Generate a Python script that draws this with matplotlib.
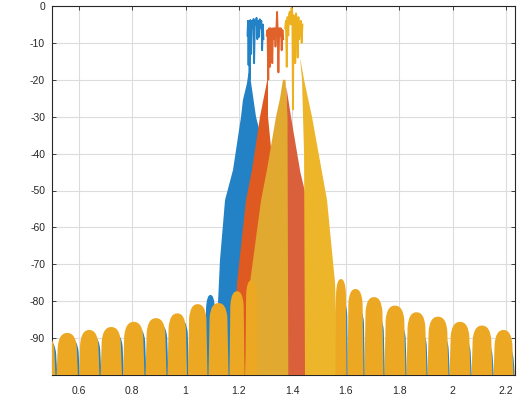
import matplotlib
matplotlib.use("Agg")
import matplotlib.pyplot as plt
from matplotlib.path import Path
from matplotlib.patches import PathPatch
from matplotlib.ticker import FuncFormatter

plt.rcParams['font.family'] = ['Liberation Sans', 'DejaVu Sans']
plt.rcParams['axes.unicode_minus'] = False

# ---------------- data ----------------
x_ticks = [0.6, 0.8, 1.0, 1.2, 1.4, 1.6, 1.8, 2.0, 2.2]
y_ticks = [-90, -80, -70, -60, -50, -40, -30, -20, -10, 0]

# passband ripple traces (x, dB)
blue_pb_x = [1.232, 1.234, 1.236, 1.238, 1.240, 1.243, 1.246, 1.249, 1.252, 1.255, 1.257, 1.260,
             1.263, 1.266, 1.269, 1.272, 1.275, 1.278, 1.281, 1.284, 1.287, 1.290, 1.292]
blue_pb_db = [-8, -4, -16, -4.5, -20, -3.8, -13, -4, -6, -3.5, -15.5, -4,
              -5, -3.2, -9, -4, -8.4, -3.6, -6, -4, -12, -5, -9]
orange_pb_x = [1.304, 1.307, 1.310, 1.313, 1.316, 1.319, 1.322, 1.325, 1.328, 1.331, 1.334,
               1.337, 1.340, 1.343, 1.345, 1.348, 1.351, 1.354, 1.357, 1.360, 1.363, 1.366]
orange_pb_db = [-8, -6.5, -20, -6, -16.5, -6, -7, -15.5, -6, -9, -6,
                -11, -6.5, -1.6, -6, -18, -6, -8, -6, -12, -6.5, -9]
yellow_pb_x = [1.373, 1.376, 1.379, 1.382, 1.385, 1.388, 1.391, 1.394, 1.397, 1.400, 1.4025, 1.405,
               1.408, 1.411, 1.414, 1.417, 1.420, 1.423, 1.426, 1.429, 1.432, 1.435, 1.438]
yellow_pb_db = [-6, -4, -16.5, -3, -8, -2, -1.5, -5, -0.5, -1.6, -28, -2.5,
                -6, -15.5, -2, -4, -14, -3, -9, -6, -4, -10, -5]

# skirt outlines (x, dB)
blue_skirt_x = [1.236, 1.230, 1.215, 1.208, 1.178, 1.148, 1.129, 1.122, 1.114, 1.373, 1.354, 1.316, 1.264, 1.242]
blue_skirt_db = [-18, -21, -25.5, -30, -44.4, -52.6, -69, -80, -100, -100, -60, -45, -30, -19]
orange_lskirt_x = [1.309, 1.301, 1.279, 1.249, 1.2265, 1.193, 1.174, 1.391, 1.339, 1.309]
orange_lskirt_db = [-19, -22, -30, -44.4, -52.6, -75, -100, -100, -52.6, -30]
orange_rskirt_x = [1.378, 1.395, 1.430, 1.455, 1.465, 1.377, 1.377]
orange_rskirt_db = [-22, -30, -45, -52.6, -100, -100, -30]
yellow_lskirt_x = [1.365, 1.354, 1.339, 1.305, 1.283, 1.2415, 1.223, 1.385, 1.382, 1.3745]
yellow_lskirt_db = [-20, -25, -30, -44.4, -52.6, -75, -100, -100, -30, -20]
yellow_rskirt_x = [1.4288, 1.4363, 1.444, 1.4475, 1.571, 1.560, 1.530, 1.4737, 1.444]
yellow_rskirt_db = [-13.8, -20, -40, -100, -100, -75, -52.6, -30, -20]

# far side lobes: null positions and peak levels
yellow_nulls_left = [0.4326, 0.5150, 0.5992, 0.6798, 0.7640, 0.8483, 0.9307, 1.0074, 1.0842, 1.1629, 1.2228, 1.2715]
yellow_peaks_left = [-89.2, -88.6, -87.8, -87.0, -85.6, -84.6, -83.3, -80.8, -80.5, -77.3, -74.3]
yellow_nulls_right = [1.5598, 1.6048, 1.6684, 1.7433, 1.8257, 1.9044, 1.9868, 2.0692, 2.1515, 2.2302, 2.3126]
yellow_peaks_right = [-74.0, -76.7, -78.9, -81.2, -83.0, -84.2, -85.6, -86.6, -87.8, -88.5]

blue_nulls_left = [0.4396, 0.5220, 0.6062, 0.6868, 0.7710, 0.8553, 0.9377, 1.0144, 1.0730, 1.1140]
blue_peaks_left = [-90.5, -90.0, -89.3, -88.5, -87.0, -86.0, -84.8, -82.5, -78.3]
blue_nulls_right = [1.5648, 1.6098, 1.6734, 1.7483, 1.8307, 1.9094, 1.9918, 2.0742, 2.1565, 2.2352, 2.3176]
blue_peaks_right = [-80, -82, -84, -86, -88, -89, -90, -91, -92, -90]

# ---------------- styles ----------------
C_BLUE = '#2381C6'
C_ORANGE = '#DE5A20'
C_SALMON = '#D9603A'
C_GOLD = '#E1A92F'
C_YELLOW = '#EDB52A'
C_LOBE = '#ECA823'

fig = plt.figure(figsize=(5.23, 4.01), dpi=100)
ax = fig.add_axes([52/523, 26/401, 463/523, 369/401])
ax.set_xlim(0.5, 2.234)
ax.set_ylim(-100, 0)
ax.set_axisbelow(True)
ax.grid(True, color='#DCDCDC', linewidth=0.8)


def draw_lobes(nulls, peaks, color, z):
    for i, pk in enumerate(peaks):
        xl, xr = nulls[i] + 0.0015, nulls[i + 1] - 0.0015
        w = xr - xl
        xc = 0.5 * (xl + xr)
        verts = [(xl, -101), (xl + 0.06 * w, pk - 4),
                 (xl + 0.10 * w, pk - 1.2), (xl + 0.25 * w, pk), (xc, pk),
                 (xr - 0.25 * w, pk), (xr - 0.10 * w, pk - 1.2), (xr - 0.06 * w, pk - 4),
                 (xr, -101), (xl, -101)]
        codes = [Path.MOVETO, Path.LINETO,
                 Path.CURVE4, Path.CURVE4, Path.CURVE4,
                 Path.CURVE4, Path.CURVE4, Path.CURVE4,
                 Path.LINETO, Path.CLOSEPOLY]
        ax.add_patch(PathPatch(Path(verts, codes), facecolor=color, edgecolor='none', zorder=z))


draw_lobes(blue_nulls_left, blue_peaks_left, C_BLUE, 1)
draw_lobes(blue_nulls_right, blue_peaks_right, C_BLUE, 1)
ax.fill(blue_skirt_x, blue_skirt_db, color=C_BLUE, lw=0, zorder=2)
ax.fill(orange_lskirt_x, orange_lskirt_db, color=C_ORANGE, lw=0, zorder=3)
ax.fill(orange_rskirt_x, orange_rskirt_db, color=C_SALMON, lw=0, zorder=3)
ax.fill(yellow_lskirt_x, yellow_lskirt_db, color=C_GOLD, lw=0, zorder=4)
ax.fill(yellow_rskirt_x, yellow_rskirt_db, color=C_YELLOW, lw=0, zorder=4)
draw_lobes(yellow_nulls_left, yellow_peaks_left, C_LOBE, 5)
draw_lobes(yellow_nulls_right, yellow_peaks_right, C_LOBE, 5)

ax.plot(blue_pb_x, blue_pb_db, color=C_BLUE, lw=1.3, zorder=6)
ax.plot(orange_pb_x, orange_pb_db, color='#E0622A', lw=1.3, zorder=6)
ax.plot(yellow_pb_x, yellow_pb_db, color='#EDB120', lw=1.3, zorder=6)

ax.set_xticks(x_ticks)
ax.set_yticks(y_ticks)
ax.xaxis.set_major_formatter(FuncFormatter(lambda v, p: '%g' % v))
ax.tick_params(direction='in', length=3, width=0.6, top=True, right=True,
               labelsize=7.5, colors='#262626')
ax.tick_params(axis='x', pad=8)
ax.tick_params(axis='y', pad=5)
for s in ax.spines.values():
    s.set_color('#262626')
    s.set_linewidth(0.8)

fig.savefig('out.png', dpi=100)
